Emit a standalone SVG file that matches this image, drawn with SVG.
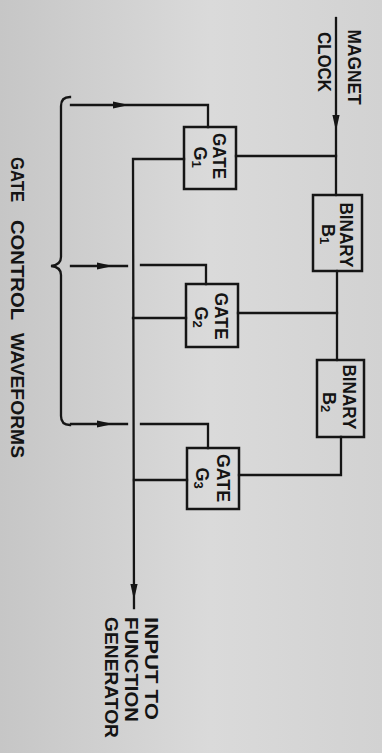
<svg xmlns="http://www.w3.org/2000/svg" xmlns:xlink="http://www.w3.org/1999/xlink" width="382" height="753" viewBox="0 0 382 753">
  <defs>
    <linearGradient id="paper" x1="0" y1="0" x2="1" y2="0">
      <stop offset="0" stop-color="#c6c6c6"/>
      <stop offset="0.55" stop-color="#dadada"/>
      <stop offset="1" stop-color="#d2d2d2"/>
    </linearGradient>
    <!-- slim filled arrowhead, tip at origin, pointing +x -->
    <path id="head" d="M0,0 L-16,-3.6 L-16,3.6 Z"/>
  </defs>
  <style>
    .wire { fill: none; stroke: #151515; stroke-width: 2.3; stroke-linejoin: miter; stroke-linecap: square; }
    .box { fill: none; stroke: #151515; stroke-width: 2.5; }
    .ah { fill: #151515; }
    .lbl { font-family: "Liberation Sans", Arial, sans-serif; font-weight: bold; font-size: 19px; fill: #141414; }
    .sm { font-size: 18px; }
    .sub { font-size: 13px; }
  </style>

  <rect x="0" y="0" width="382" height="753" fill="url(#paper)"/>

  <!-- connectors -->
  <g id="connectors">
    <!-- clock input down the right side -->
    <path class="wire" d="M336,18 L336,195"/>
    <use xlink:href="#head" class="ah" transform="translate(336,131) rotate(90)"/>
    <!-- clock tap to gate G1 -->
    <path class="wire" d="M236,156 L336,156"/>
    <!-- B1 to B2 -->
    <path class="wire" d="M337,271 L337,360"/>
    <!-- B1 output tap to gate G2 -->
    <path class="wire" d="M238,313 L337,313"/>
    <!-- B2 output to gate G3 -->
    <path class="wire" d="M341,437 L341,475 L239,475"/>

    <!-- gate control waveforms -->
    <path class="wire" d="M71,105 L208,105 L208,127"/>
    <use xlink:href="#head" class="ah" transform="translate(129,105)"/>
    <path class="wire" d="M71,266 L127,266"/>
    <path class="wire" d="M141,265 L206,265 L206,284"/>
    <use xlink:href="#head" class="ah" transform="translate(113,266)"/>
    <path class="wire" d="M71,424 L127,424"/>
    <path class="wire" d="M141,424 L208,424 L208,448"/>
    <use xlink:href="#head" class="ah" transform="translate(113,424)"/>

    <!-- gate outputs onto common bus -->
    <path class="wire" d="M184,159 L133,159 L134,608"/>
    <path class="wire" d="M186,318 L133,318"/>
    <path class="wire" d="M187,480 L134,480"/>
    <use xlink:href="#head" class="ah" transform="translate(134,600) rotate(90)"/>

    <!-- brace grouping the control inputs -->
    <path class="wire" stroke-linecap="round" stroke-width="2.5" d="M70,97 Q61,97 61,106 L61,257 Q61,265 51,266 Q61,267 61,275 L61,416 Q61,425 70,425"/>
  </g>

  <!-- labels for clock and output -->
  <g id="clock-label">
    <text class="lbl" transform="translate(348,67) rotate(90)" text-anchor="middle" textLength="75" lengthAdjust="spacingAndGlyphs">MAGNET</text>
    <text class="lbl" transform="translate(318,62) rotate(90)" text-anchor="middle" textLength="60" lengthAdjust="spacingAndGlyphs">CLOCK</text>
  </g>
  <g id="output-label">
    <text class="lbl" transform="translate(145,617) rotate(90)" textLength="103" lengthAdjust="spacingAndGlyphs">INPUT  TO</text>
    <text class="lbl" transform="translate(125,617) rotate(90)" textLength="105" lengthAdjust="spacingAndGlyphs">FUNCTION</text>
    <text class="lbl" transform="translate(105,617) rotate(90)" textLength="121" lengthAdjust="spacingAndGlyphs">GENERATOR</text>
  </g>
  <g id="control-label">
    <text class="lbl" transform="translate(11,157) rotate(90)" textLength="45" lengthAdjust="spacingAndGlyphs">GATE</text>
    <text class="lbl" transform="translate(11,220) rotate(90)" textLength="100" lengthAdjust="spacingAndGlyphs">CONTROL</text>
    <text class="lbl" transform="translate(11,333) rotate(90)" textLength="125" lengthAdjust="spacingAndGlyphs">WAVEFORMS</text>
  </g>

  <!-- gates -->
  <g id="gate-g1">
    <rect class="box" x="184" y="127" width="52" height="62"/>
    <text class="lbl sm" transform="translate(213,156) rotate(90)" text-anchor="middle" textLength="46" lengthAdjust="spacingAndGlyphs">GATE</text>
    <text class="lbl sm" transform="translate(194,157) rotate(90)" text-anchor="middle">G<tspan class="sub" dy="2">1</tspan></text>
  </g>
  <g id="gate-g2">
    <rect class="box" x="186" y="284" width="52" height="63"/>
    <text class="lbl sm" transform="translate(215,316) rotate(90)" text-anchor="middle" textLength="47" lengthAdjust="spacingAndGlyphs">GATE</text>
    <text class="lbl sm" transform="translate(195,317) rotate(90)" text-anchor="middle">G<tspan class="sub" dy="2">2</tspan></text>
  </g>
  <g id="gate-g3">
    <rect class="box" x="187" y="448" width="52" height="61"/>
    <text class="lbl sm" transform="translate(217,478) rotate(90)" text-anchor="middle" textLength="48" lengthAdjust="spacingAndGlyphs">GATE</text>
    <text class="lbl sm" transform="translate(196,478) rotate(90)" text-anchor="middle">G<tspan class="sub" dy="2">3</tspan></text>
  </g>

  <!-- binary stages -->
  <g id="binary-b1">
    <rect class="box" x="313" y="195" width="49" height="76"/>
    <text class="lbl sm" transform="translate(340,235) rotate(90)" text-anchor="middle" textLength="65" lengthAdjust="spacingAndGlyphs">BINARY</text>
    <text class="lbl sm" transform="translate(322,234) rotate(90)" text-anchor="middle">B<tspan class="sub" dy="2">1</tspan></text>
  </g>
  <g id="binary-b2">
    <rect class="box" x="317" y="360" width="47" height="77"/>
    <text class="lbl sm" transform="translate(343,397) rotate(90)" text-anchor="middle" textLength="65" lengthAdjust="spacingAndGlyphs">BINARY</text>
    <text class="lbl sm" transform="translate(323,402) rotate(90)" text-anchor="middle">B<tspan class="sub" dy="2">2</tspan></text>
  </g>
</svg>
